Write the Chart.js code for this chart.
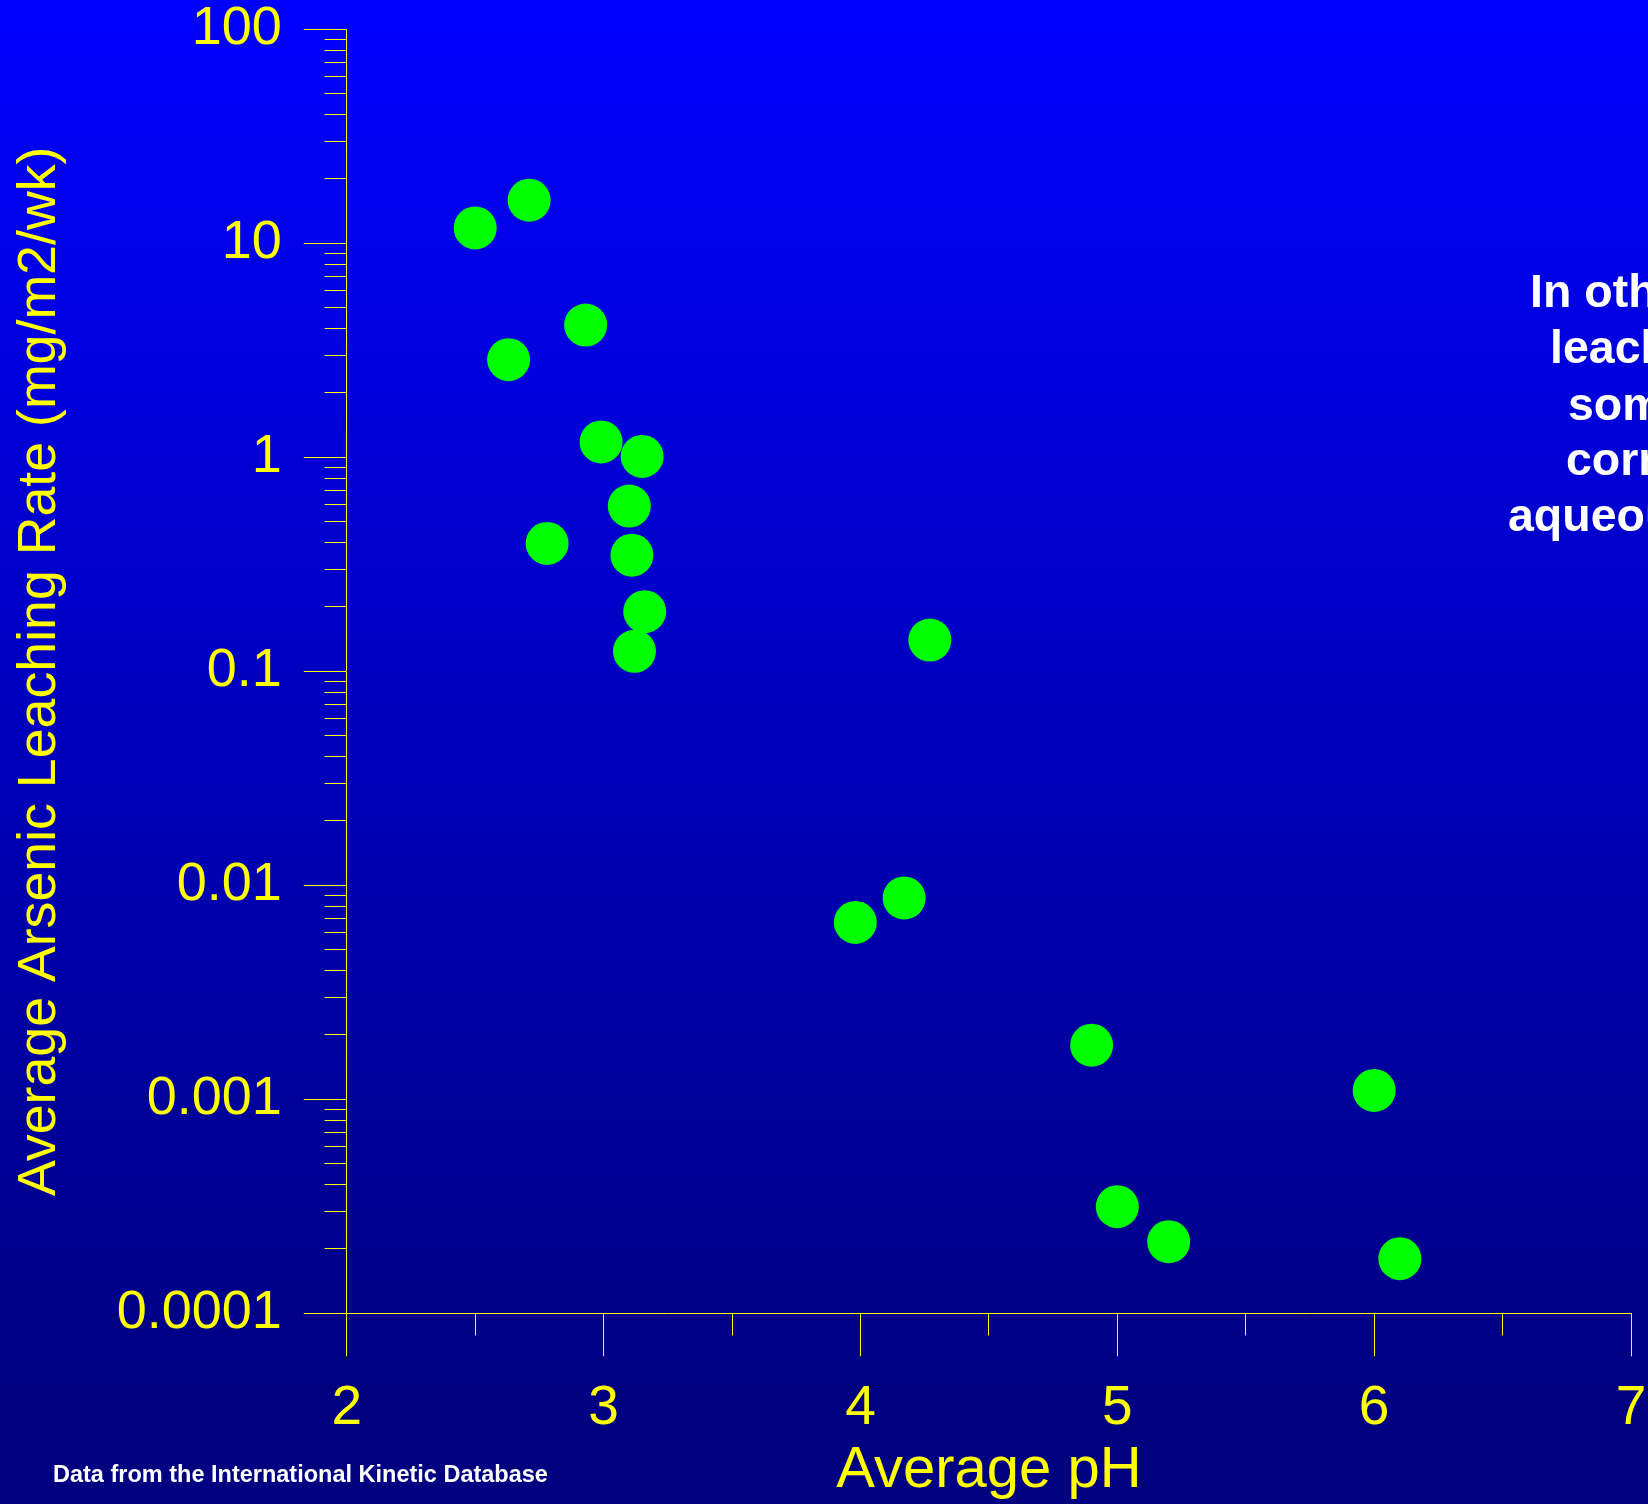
<!DOCTYPE html>
<html>
<head>
<meta charset="utf-8">
<script src="https://cdn.jsdelivr.net/npm/chart.js@4.4.1/dist/chart.umd.min.js"></script>
<style>
html,body{margin:0;padding:0;background:#000080;overflow:hidden}
canvas{display:block}
</style>
</head>
<body>
<canvas id="c" width="1648" height="1504"></canvas>
<script>
// ---- data ----
const phValues   = [2.50, 2.71, 2.93, 2.63, 2.99, 3.15, 3.10, 2.78, 3.11, 3.16, 3.12, 4.27, 3.98, 4.17, 4.90, 6.00, 5.00, 5.20, 6.10];
const leachRates = [11.8, 15.9, 4.15, 2.86, 1.18, 1.01, 0.592, 0.396, 0.349, 0.190, 0.124, 0.140, 0.00671, 0.00873, 0.00179, 0.00110, 0.000315, 0.000216, 0.000180];

const yDecadeTicks  = [0.0001, 0.001, 0.01, 0.1, 1, 10, 100];
const yDecadeLabels = ['0.0001', '0.001', '0.01', '0.1', '1', '10', '100'];
const yMinorMultipliers = [2, 3, 4, 5, 6, 7, 8, 9];

const xTickValues = [2, 2.5, 3, 3.5, 4, 4.5, 5, 5.5, 6, 6.5, 7];
const xTickLabels = ['2', '', '3', '', '4', '', '5', '', '6', '', '7'];

const xTitle = 'Average pH';
const yTitle = 'Average Arsenic Leaching Rate (mg/m2/wk)';
const noteLines = ['In other words,', 'leaching rate', 'somewhat', 'correlates with', 'aqueous pH.'];
const sourceNote = 'Data from the International Kinetic Database';

// ---- styling / layout ----
const YELLOW = '#ffff00';
const FONT = "'Liberation Sans', Arial, Helvetica, sans-serif";

const points = phValues.map((x, i) => ({ x: x, y: leachRates[i] }));

const yTicksList = [];
yDecadeTicks.forEach((d, i) => {
  yTicksList.push({ value: d, major: true });
  if (i < yDecadeTicks.length - 1) {
    yMinorMultipliers.forEach(m => yTicksList.push({ value: parseFloat((d * m).toPrecision(6)), major: false }));
  }
});

function alignPx(p) { return Math.round(p - 0.5) + 0.5; }

const bgPlugin = {
  id: 'bg',
  beforeDraw(chart) {
    const { ctx, width, height } = chart;
    ctx.save();
    const g = ctx.createLinearGradient(0, 0, 0, 1400);
    g.addColorStop(0, '#0000ff');
    g.addColorStop(1, '#000080');
    ctx.fillStyle = g;
    ctx.fillRect(0, 0, width, height);
    ctx.restore();
  }
};

const minorTickPlugin = {
  id: 'minorTicks',
  beforeDatasetsDraw(chart) {
    const { ctx } = chart;
    const xs = chart.scales.x, ys = chart.scales.y;
    ctx.save();
    ctx.strokeStyle = YELLOW;
    ctx.lineWidth = 1;
    ctx.beginPath();
    ys.ticks.forEach(t => {
      if (!t.major) {
        const py = alignPx(ys.getPixelForValue(t.value));
        const px = alignPx(ys.right);
        ctx.moveTo(px - 22, py);
        ctx.lineTo(px, py);
      }
    });
    xs.ticks.forEach(t => {
      if (!Number.isInteger(t.value)) {
        const px = alignPx(xs.getPixelForValue(t.value));
        const py = alignPx(xs.top);
        ctx.moveTo(px, py);
        ctx.lineTo(px, py + 22);
      }
    });
    ctx.stroke();
    ctx.restore();
  }
};

const textPlugin = {
  id: 'notes',
  afterDraw(chart) {
    const { ctx } = chart;
    ctx.save();
    ctx.fillStyle = '#ffffff';
    ctx.textAlign = 'left';
    ctx.textBaseline = 'alphabetic';
    ctx.font = 'bold 46.5px ' + FONT;
    const noteX = [1530, 1550, 1568, 1566, 1508];
    const noteY = [307, 363, 420, 475, 531];
    noteLines.forEach((s, i) => ctx.fillText(s, noteX[i], noteY[i]));
    ctx.font = 'bold 23.5px ' + FONT;
    ctx.fillText(sourceNote, 53, 1482);
    ctx.restore();
  }
};

new Chart(document.getElementById('c'), {
  type: 'scatter',
  data: {
    datasets: [{
      data: points,
      backgroundColor: '#00ff00',
      borderWidth: 0,
      pointRadius: 21.5,
      pointHoverRadius: 21.5
    }]
  },
  options: {
    responsive: false,
    animation: false,
    devicePixelRatio: 1,
    events: [],
    layout: { autoPadding: false, padding: { top: 29.3, right: 17, bottom: 0, left: 0 } },
    plugins: { legend: { display: false }, tooltip: { enabled: false } },
    scales: {
      x: {
        type: 'linear',
        min: 2, max: 7,
        afterBuildTicks(scale) {
          scale.ticks = xTickValues.map(v => ({ value: v }));
        },
        afterFit(scale) { scale.height = 190.7; scale.paddingLeft = 0; scale.paddingRight = 0; },
        border: { display: true, color: YELLOW, width: 1 },
        grid: {
          display: true, drawOnChartArea: false, drawTicks: true,
          tickLength: 43, tickWidth: 1,
          tickColor: ctx => (ctx.tick && Number.isInteger(ctx.tick.value)) ? YELLOW : 'rgba(0,0,0,0)'
        },
        ticks: {
          autoSkip: false, maxRotation: 0, minRotation: 0,
          padding: 25,
          color: YELLOW,
          font: { family: FONT, size: 55, lineHeight: 1 },
          callback: (v) => { const i = xTickValues.indexOf(v); return i >= 0 ? xTickLabels[i] : ''; }
        },
        title: {
          display: true, text: xTitle, color: YELLOW,
          font: { family: FONT, size: 58, lineHeight: 1 },
          padding: { top: 0, bottom: 4.4 }
        }
      },
      y: {
        type: 'logarithmic',
        min: 0.0001, max: 100,
        afterBuildTicks(scale) {
          scale.ticks = yTicksList.map(t => ({ value: t.value, major: t.major }));
        },
        afterFit(scale) { scale.width = 346.8; scale.paddingTop = 0; scale.paddingBottom = 0; },
        border: { display: true, color: YELLOW, width: 1 },
        grid: {
          display: true, drawOnChartArea: false, drawTicks: true,
          tickLength: 43, tickWidth: 1,
          tickColor: ctx => (ctx.tick && ctx.tick.major) ? YELLOW : 'rgba(0,0,0,0)'
        },
        ticks: {
          autoSkip: false,
          padding: 22,
          color: YELLOW,
          font: { family: FONT, size: 54, lineHeight: 1 },
          callback: (v) => {
            const k = yDecadeTicks.findIndex(d => Math.abs(Math.log10(d) - Math.log10(v)) < 1e-6);
            return k >= 0 ? yDecadeLabels[k] : '';
          }
        },
        title: {
          display: true, text: yTitle, color: YELLOW,
          font: { family: FONT, size: 53.7, lineHeight: 1 },
          padding: { top: 13.2, bottom: 0 }
        }
      }
    }
  },
  plugins: [bgPlugin, minorTickPlugin, textPlugin]
});
</script>
</body>
</html>
